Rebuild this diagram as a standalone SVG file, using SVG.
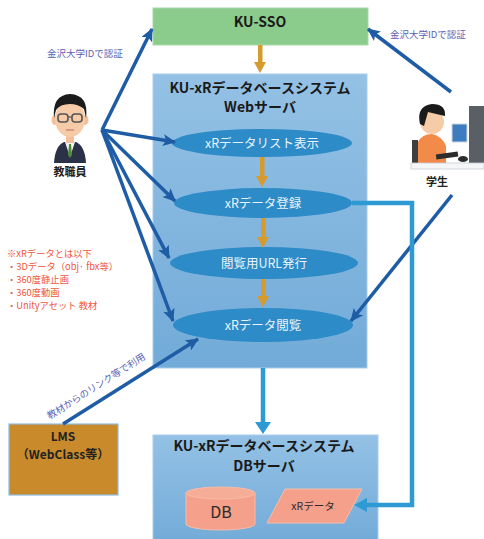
<svg xmlns="http://www.w3.org/2000/svg" width="484" height="539" viewBox="0 0 484 539">
  <style>
    .jp { font-family: "Noto Sans CJK JP", "Noto Sans", sans-serif; }
    .title { font-size: 14px; font-weight: bold; fill: #1a1a1a; text-anchor: middle; }
    .uc { font-size: 12.5px; fill: #e8f3fb; text-anchor: middle; }
    .auth { font-size: 9.5px; fill: #5b5fb3; }
    .note { font-size: 9.3px; fill: #f0553a; }
    .actor { font-size: 11px; font-weight: bold; fill: #222; text-anchor: middle; }
    .dk { stroke: #1f5ca6; stroke-width: 3.5; fill: none; marker-end: url(#hdDark); }
    .lb { stroke: #2e9ad3; stroke-width: 4.5; fill: none; }
    .orange { fill: #d69a2d; }
  </style>
  <defs>
    <linearGradient id="boxBlue" x1="0" y1="0" x2="0" y2="1">
      <stop offset="0" stop-color="#94c1e5"/>
      <stop offset="1" stop-color="#72abd8"/>
    </linearGradient>
    <marker id="hdDark" markerUnits="userSpaceOnUse" markerWidth="14" markerHeight="12" refX="12" refY="6" orient="auto">
      <path d="M0,0 L13,6 L0,12 L3,6 z" fill="#1f5ca6"/>
    </marker>
  </defs>

  <rect width="484" height="539" fill="#ffffff"/>

  <!-- SSO -->
  <g id="sso">
    <rect x="153" y="8" width="215" height="37" fill="#8bcb8c" stroke="#a8d8ac" stroke-width="1"/>
    <text class="jp title" x="260" y="27">KU-SSO</text>
  </g>

  <!-- Web server -->
  <g id="web-server">
    <rect x="153" y="74" width="214" height="294" fill="url(#boxBlue)" stroke="#a9cdea" stroke-width="1"/>
    <text class="jp title" x="260" y="93">KU-xRデータベースシステム</text>
    <text class="jp title" x="260" y="112">Webサーバ</text>
  </g>

  <g id="uc-list">
    <ellipse cx="262" cy="143" rx="90" ry="14" fill="#2d8bc7"/>
    <text class="jp uc" x="262" y="147.5">xRデータリスト表示</text>
  </g>
  <g id="uc-register">
    <ellipse cx="263" cy="203" rx="89" ry="15" fill="#2d8bc7"/>
    <text class="jp uc" x="263" y="207.5">xRデータ登録</text>
  </g>
  <g id="uc-url">
    <ellipse cx="264" cy="263" rx="94" ry="16" fill="#2d8bc7"/>
    <text class="jp uc" x="264" y="267.5">閲覧用URL発行</text>
  </g>
  <g id="uc-view">
    <ellipse cx="263" cy="325" rx="90" ry="17" fill="#2d8bc7"/>
    <text class="jp uc" x="263" y="329.5">xRデータ閲覧</text>
  </g>

  <!-- DB server -->
  <g id="db-server">
    <rect x="153" y="435" width="225" height="110" fill="url(#boxBlue)" stroke="#a9cdea" stroke-width="1"/>
    <text class="jp title" x="264" y="451" font-size="13.5">KU-xRデータベースシステム</text>
    <text class="jp title" x="264" y="471" font-size="13.5">DBサーバ</text>
  </g>
  <g id="db">
    <path d="M186,493 L186,524 A34.5,6 0 0 0 255,524 L255,493" fill="#f4a08a" stroke="#f7bca9" stroke-width="1"/>
    <ellipse cx="220.5" cy="493" rx="34.5" ry="6" fill="#f6ad98" stroke="#f7bca9" stroke-width="1"/>
    <text class="jp" x="221" y="518" font-size="16" fill="#2a2a2a" text-anchor="middle">DB</text>
  </g>
  <g id="xr-data">
    <polygon points="285,489 362,489 344,523 267,523" fill="#f4a08a" stroke="#f7bca9" stroke-width="1"/>
    <text class="jp" x="313" y="510" font-size="10.5" fill="#2a2a2a" text-anchor="middle">xRデータ</text>
  </g>

  <!-- LMS -->
  <g id="lms">
    <rect x="9" y="424" width="109" height="71" fill="#c98a2c" stroke="#8bbde3" stroke-width="1.2"/>
    <text class="jp" x="63" y="441" font-size="12" font-weight="bold" fill="#222" text-anchor="middle">LMS</text>
    <text class="jp" x="63" y="459" font-size="12" font-weight="bold" fill="#222" text-anchor="middle">（WebClass等）</text>
  </g>

  <!-- Teacher -->
  <g id="teacher">
    <path d="M54,163 Q55,146 64,142 L76,142 Q85,146 86,163 z" fill="#2b3146"/>
    <path d="M65,142 L75,142 L70,157 z" fill="#f4f4f4"/>
    <path d="M69,144 L71,144 L72,155 L70,158 L68,155 z" fill="#4f8a3a"/>
    <rect x="66" y="133" width="8" height="10" fill="#f2bf9a"/>
    <ellipse cx="55" cy="120" rx="3.5" ry="5" fill="#f2bf9a"/>
    <ellipse cx="85" cy="120" rx="3.5" ry="5" fill="#f2bf9a"/>
    <ellipse cx="70" cy="119" rx="15" ry="18" fill="#f6cba8"/>
    <path d="M54,118 Q52,95 70,94 Q89,95 86,118 L84,109 Q78,104 70,104 Q60,104 56,110 z" fill="#1b1b1b"/>
    <rect x="58" y="114" width="10" height="8" rx="3" fill="none" stroke="#555" stroke-width="1.6"/>
    <rect x="72" y="114" width="10" height="8" rx="3" fill="none" stroke="#555" stroke-width="1.6"/>
    <line x1="68" y1="117" x2="72" y2="117" stroke="#555" stroke-width="1.2"/>
    <line x1="66" y1="130" x2="74" y2="130" stroke="#b36a5a" stroke-width="1"/>
    <text class="jp actor" x="70" y="176">教職員</text>
  </g>

  <!-- Student -->
  <g id="student">
    <rect x="469" y="106" width="15" height="57" fill="#5a5f66"/>
    <polygon points="452,124 467,124 467,142 452,142" fill="#3d7dbf" stroke="#cfd6dd" stroke-width="1"/>
    <rect x="412" y="140" width="6" height="24" fill="#3e3e3e"/>
    <path d="M418,164 L418,142 Q422,134 432,134 Q442,136 446,146 L446,164 z" fill="#f28a4a"/>
    <rect x="436" y="153" width="22" height="5" fill="#2c2c2c" transform="rotate(-8 447 155)"/>
    <ellipse cx="463" cy="159" rx="5" ry="3" fill="#2c2c2c"/>
    <circle cx="432" cy="122" r="12" fill="#f6cba8"/>
    <path d="M420,124 Q416,106 432,104 Q446,104 445,116 Q436,114 428,112 L424,126 z" fill="#1b1b1b"/>
    <rect x="411" y="163" width="73" height="6" fill="#f4f6f8" stroke="#c8cdd2" stroke-width="0.8"/>
    <text class="jp actor" x="437" y="186">学生</text>
  </g>

  <!-- Notes -->
  <g id="notes">
    <text class="jp note" x="7" y="257">※xRデータとは以下</text>
    <text class="jp note" x="7" y="270">・3Dデータ（obj· fbx等）</text>
    <text class="jp note" x="7" y="283">・360度静止画</text>
    <text class="jp note" x="7" y="296">・360度動画</text>
    <text class="jp note" x="7" y="309">・Unityアセット 教材</text>
  </g>

  <!-- Connectors -->
  <g id="connectors">
    <!-- flow inside the web server -->
    <rect class="orange" x="258" y="45" width="4.5" height="18"/>
    <polygon class="orange" points="254,62 266,62 260,73"/>
    <rect class="orange" x="260" y="157" width="4.5" height="20"/>
    <polygon class="orange" points="256,176 268,176 262,187"/>
    <rect class="orange" x="261" y="218" width="4.5" height="20"/>
    <polygon class="orange" points="257,237 269,237 263,248"/>
    <rect class="orange" x="261" y="279" width="4.5" height="18"/>
    <polygon class="orange" points="257,296 269,296 263,307"/>

    <!-- teacher -->
    <line class="dk" x1="102" y1="130" x2="152" y2="29"/>
    <line class="dk" x1="102" y1="130" x2="175" y2="142"/>
    <line class="dk" x1="102" y1="130" x2="175" y2="201"/>
    <line class="dk" x1="102" y1="130" x2="169" y2="258"/>
    <line class="dk" x1="102" y1="130" x2="173" y2="321"/>

    <!-- student -->
    <line class="dk" x1="451" y1="92" x2="368" y2="29"/>
    <line class="dk" x1="452" y1="195" x2="351" y2="321"/>

    <!-- LMS -->
    <line class="dk" x1="63" y1="424" x2="198" y2="339"/>
    <text class="jp auth" transform="translate(98,389) rotate(-32.4)" text-anchor="middle" font-size="9.5">教材からのリンク等で利用</text>

    <!-- auth labels -->
    <text class="jp auth" x="47" y="57">金沢大学IDで認証</text>
    <text class="jp auth" x="390" y="38">金沢大学IDで認証</text>

    <!-- web server to DB server -->
    <line class="lb" x1="263" y1="368" x2="263" y2="425"/>
    <polygon points="255,422 271,422 263,434" fill="#2e9ad3"/>

    <!-- register to stored data -->
    <polyline class="lb" points="352,203 412,203 412,505 366,505"/>
    <polygon points="367,498 367,512 354,505" fill="#2e9ad3"/>
  </g>
</svg>
